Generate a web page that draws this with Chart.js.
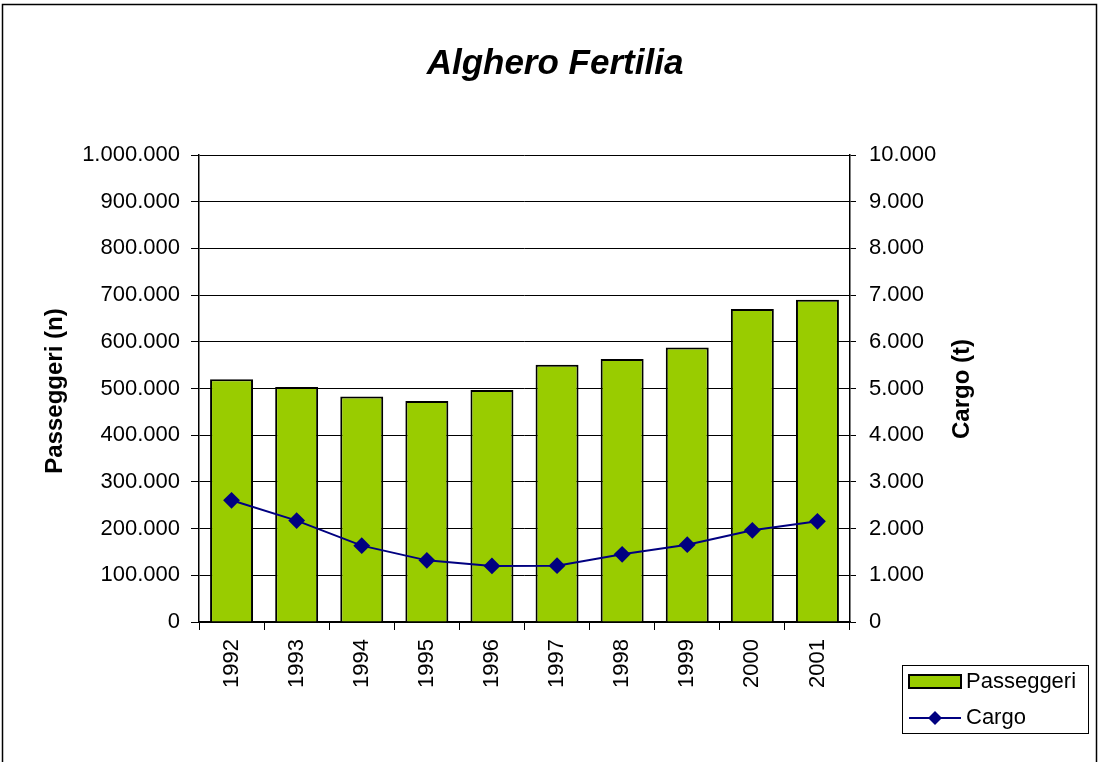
<!DOCTYPE html>
<html>
<head>
<meta charset="utf-8">
<script src="https://cdn.jsdelivr.net/npm/chart.js@4/dist/chart.umd.min.js"></script>
<style>
  html, body { margin: 0; padding: 0; background: #fff; }
  #wrap { width: 1099px; height: 762px; position: relative; }
</style>
</head>
<body>
<div id="wrap"><canvas id="grafico" width="1099" height="762"></canvas></div>
<script>
// dati
const anni = ["1992", "1993", "1994", "1995", "1996", "1997", "1998", "1999", "2000", "2001"];
const passeggeri = [520000, 503000, 483000, 473000, 497000, 551000, 563000, 588000, 670000, 690000];
const cargo = [2606, 2171, 1635, 1320, 1200, 1206, 1449, 1656, 1963, 2156];

const titolo = "Alghero Fertilia";
const titoloSx = "Passeggeri (n)";
const titoloDx = "Cargo (t)";

const verde = "#99CC00";
const blu = "#000080";
const font = "'Liberation Sans', Arial, sans-serif";

// formato con punto per le migliaia
function migliaia(v) {
  return Math.round(v).toString().replace(/\B(?=(\d{3})+(?!\d))/g, ".");
}

// cornice, titolo, titoli degli assi e legenda
const decorazioni = {
  id: "decorazioni",
  afterDraw(chart) {
    const ctx = chart.ctx;
    const area = chart.chartArea;
    ctx.save();
    ctx.strokeStyle = "#000";
    ctx.lineWidth = 1.5;
    ctx.strokeRect(2.5, 4.5, 1094, 770);

    ctx.fillStyle = "#000";
    ctx.textAlign = "center";
    ctx.textBaseline = "middle";
    ctx.font = "italic bold 35px " + font;
    ctx.fillText(titolo, 555, 64);

    ctx.font = "bold 24px " + font;
    ctx.save();
    ctx.translate(55, 391);
    ctx.rotate(-Math.PI / 2);
    ctx.fillText(titoloSx, 0, 0);
    ctx.restore();
    ctx.save();
    ctx.translate(962, 389);
    ctx.rotate(-Math.PI / 2);
    ctx.fillText(titoloDx, 0, 0);
    ctx.restore();

    // legenda
    const dsBar = chart.data.datasets.find(d => d.type !== "line");
    const dsLine = chart.data.datasets.find(d => d.type === "line");
    ctx.lineWidth = 1;
    ctx.strokeStyle = "#000";
    ctx.strokeRect(902.5, 665.5, 186, 68);
    ctx.fillStyle = verde;
    ctx.fillRect(909, 675, 52, 13);
    ctx.lineWidth = 2;
    ctx.strokeRect(909, 675, 52, 13);
    ctx.strokeStyle = blu;
    ctx.lineWidth = 2;
    ctx.beginPath();
    ctx.moveTo(909, 718);
    ctx.lineTo(961, 718);
    ctx.stroke();
    ctx.fillStyle = blu;
    ctx.beginPath();
    ctx.moveTo(935, 711);
    ctx.lineTo(942, 718);
    ctx.lineTo(935, 725);
    ctx.lineTo(928, 718);
    ctx.closePath();
    ctx.fill();
    ctx.fillStyle = "#000";
    ctx.textAlign = "left";
    ctx.font = "22px " + font;
    ctx.fillText(dsBar.label, 966, 682);
    ctx.fillText(dsLine.label, 966, 718);
    ctx.restore();
  }
};

new Chart(document.getElementById("grafico"), {
  type: "bar",
  data: {
    labels: anni,
    datasets: [
      {
        type: "line",
        label: "Cargo",
        data: cargo,
        yAxisID: "y2",
        borderColor: blu,
        backgroundColor: blu,
        borderWidth: 2,
        pointStyle: "rectRot",
        pointRadius: 7,
        pointHoverRadius: 7,
        tension: 0,
        order: 0
      },
      {
        label: "Passeggeri",
        data: passeggeri,
        yAxisID: "y",
        backgroundColor: verde,
        borderColor: "#000",
        borderWidth: 2,
        categoryPercentage: 1,
        barPercentage: 0.66,
        order: 1
      }
    ]
  },
  options: {
    responsive: false,
    animation: false,
    layout: { padding: { top: 155, left: 0, right: 0, bottom: 0 } },
    plugins: {
      legend: { display: false },
      title: { display: false },
      tooltip: { enabled: false }
    },
    scales: {
      x: {
        offset: true,
        grid: { offset: true, drawOnChartArea: false, color: "#000", tickLength: 8 },
        border: { color: "#000", width: 1.5 },
        ticks: {
          color: "#000",
          font: { family: font, size: 22 },
          minRotation: 90,
          maxRotation: 90,
          padding: 9
        },
        afterFit(s) { s.height = 140; }
      },
      y: {
        position: "left",
        min: 0,
        max: 1000000,
        ticks: {
          stepSize: 100000,
          color: "#000",
          font: { family: font, size: 22 },
          padding: 11,
          callback: v => migliaia(v)
        },
        grid: { color: "#000", lineWidth: 1, tickLength: 8 },
        border: { color: "#000", width: 1.5 },
        afterFit(s) { s.width = 199; }
      },
      y2: {
        position: "right",
        min: 0,
        max: 10000,
        ticks: {
          stepSize: 1000,
          color: "#000",
          font: { family: font, size: 22 },
          padding: 13,
          callback: v => migliaia(v)
        },
        grid: { drawOnChartArea: false, color: "#000", tickLength: 6 },
        border: { color: "#000", width: 1.5 },
        afterFit(s) { s.width = 249; }
      }
    }
  },
  plugins: [decorazioni]
});
</script>
</body>
</html>
